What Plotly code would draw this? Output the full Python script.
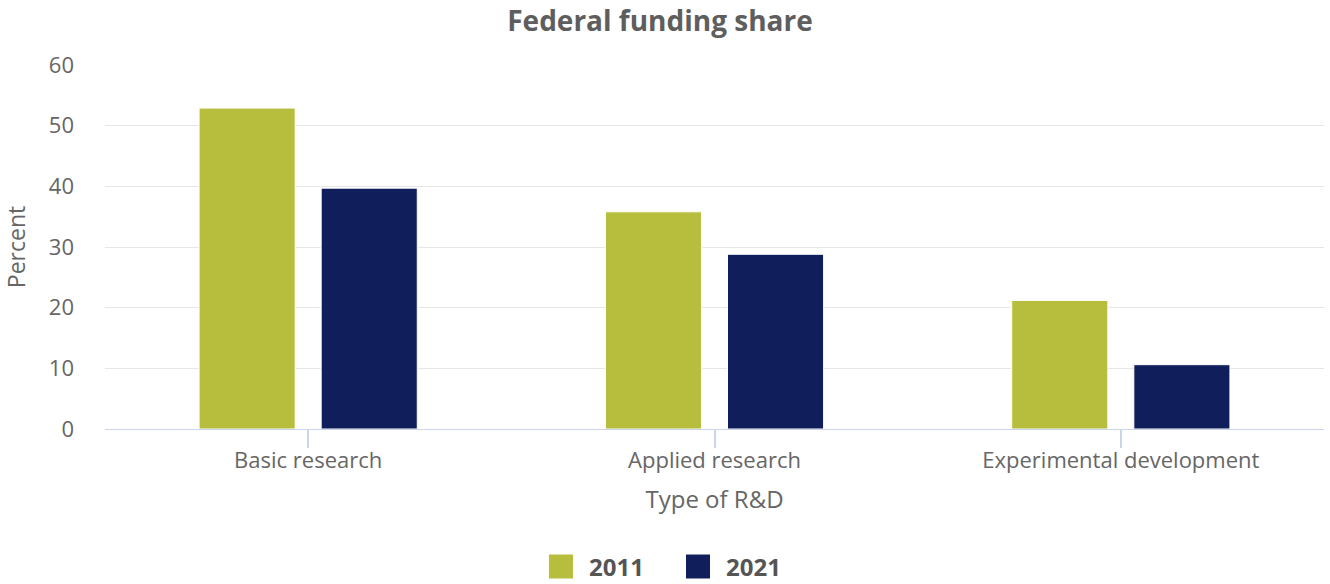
import plotly.graph_objects as go

categories = ["Basic research", "Applied research", "Experimental development"]
years = ["2011", "2021"]
values_2011 = [52.9, 35.8, 21.2]
values_2021 = [39.7, 28.8, 10.6]
colors = ["#b7bd3c", "#101f5b"]
y_ticks = [0, 10, 20, 30, 40, 50, 60]

FONT = "Open Sans"
fig = go.Figure()
for name, vals, col in zip(years, [values_2011, values_2021], colors):
    fig.add_trace(go.Bar(
        x=categories, y=vals, name=name, showlegend=False,
        marker=dict(color=col, line=dict(color="#ffffff", width=1)),
    ))

# Custom legend (larger square symbols, as in the reference)
legend_sq_x = [(0.3642, 0.3839), (0.4766, 0.4963)]
legend_txt_x = [0.3954, 0.5078]
for (x0, x1), tx, name, col in zip(legend_sq_x, legend_txt_x, years, colors):
    fig.add_shape(type="rect", xref="paper", yref="paper", x0=x0, x1=x1,
                  y0=-0.4107, y1=-0.3448, fillcolor=col, line=dict(width=0))
    fig.add_annotation(xref="paper", yref="paper", x=tx, y=-0.3778, xanchor="left",
                       yanchor="middle", showarrow=False, text="<b>%s</b>" % name,
                       font=dict(size=24, color="#555555", family=FONT))

fig.update_layout(
    width=1330, height=584,
    paper_bgcolor="#ffffff", plot_bgcolor="#ffffff",
    font=dict(family=FONT, color="#666666", size=16),
    title=dict(text="<b>Federal funding share</b>", x=660 / 1330, xanchor="center",
               yref="container", y=1 - 21 / 584, yanchor="middle",
               font=dict(size=28, color="#5e5e5e", family=FONT)),
    margin=dict(l=105, r=6, t=65, b=155, autoexpand=False),
    barmode="group", bargap=0.399, bargroupgap=0.213,
)
fig.update_yaxes(range=[0, 60], tickvals=y_ticks, showgrid=True, gridcolor="#e6e6e6",
                 gridwidth=1, zeroline=False, showline=False, automargin=False,
                 tickfont=dict(size=22, color="#666666"), ticklabelstandoff=30,
                 title=dict(text="Percent", font=dict(size=23, color="#666666"), standoff=29))
fig.update_xaxes(showline=True, linecolor="#ccd6eb", linewidth=1, ticks="outside",
                 ticklen=18, tickcolor="#ccd6eb", tickwidth=2, automargin=False,
                 tickfont=dict(size=22, color="#666666"), ticklabelstandoff=-6,
                 title=dict(text="Type of R&D", font=dict(size=24, color="#666666"), standoff=17))

# Remove the page's default body margin so the figure fills the window exactly.
fig.write_html("out.html", config={"displayModeBar": False},
               post_script="document.body.style.margin='0';")
